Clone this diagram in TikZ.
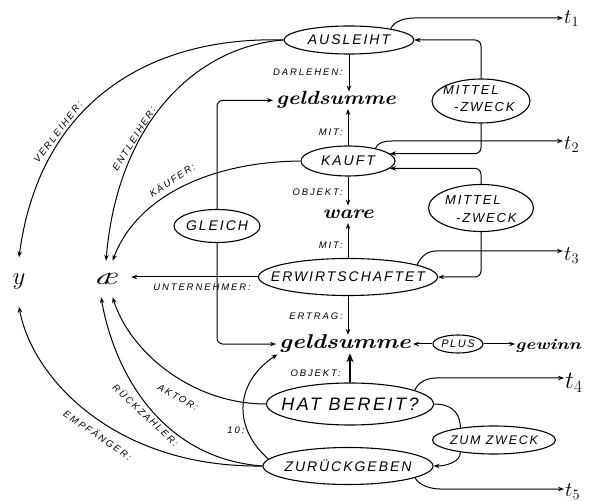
\documentclass[tikz,border=0pt]{standalone}
\usepackage{fontspec}
\usetikzlibrary{shapes.geometric,arrows.meta}
\newfontfamily\handE[LetterSpace=14]{Liberation Sans}
\newfontfamily\handL[LetterSpace=20]{Liberation Sans}
\newcommand{\myfs}[1]{\fontsize{#1}{#1}\selectfont}
\begin{document}
\begin{tikzpicture}[x=1pt,y=-1pt,
  ell/.style={ellipse, draw, line width=1.1pt, inner sep=0pt, font=\handE\itshape\myfs{14}},
  etext/.style={inner sep=0pt, anchor=west, font=\handE\itshape\myfs{13}},
  lab/.style={inner sep=0pt, font=\handL\itshape\myfs{9.5}},
  word/.style={inner sep=0pt, anchor=base, font=\bfseries\itshape\myfs{19}},
  tlab/.style={inner sep=1pt, anchor=west, font=\myfs{20}},
  arr/.style={line width=1pt, -{Stealth[length=6pt,width=4.5pt]}},
  ln/.style={line width=1pt},
]
\useasboundingbox (0,0) rectangle (589,502);

% ellipses
\node[ell, minimum width=130pt, minimum height=28pt] (aus) at (349,40) {\makebox[0pt]{AUSLEIHT}};
\node[ell, minimum width=94pt, minimum height=30pt] (kauft) at (348,161) {\makebox[0pt]{KAUFT}};
\node[ell, minimum width=179pt, minimum height=37pt] (erw) at (348,277) {\makebox[0pt]{ERWIRTSCHAFTET}};
\node[ell, minimum width=167pt, minimum height=42pt, font=\handE\itshape\myfs{18}] (hat) at (350,404) {\makebox[0pt]{HAT BEREIT?}};
\node[ell, minimum width=170pt, minimum height=37pt] (zur) at (348,466) {\makebox[0pt]{ZURÜCKGEBEN}};
\node[ell, minimum width=86pt, minimum height=33pt] (gleich) at (217,226) {\makebox[0pt]{GLEICH}};
\node[ell, minimum width=123pt, minimum height=28pt, font=\handE\itshape\myfs{12.5}] (zz) at (494,440) {\makebox[0pt]{ZUM ZWECK}};
\node[ell, minimum width=50pt, minimum height=18pt, font=\handE\itshape\myfs{11}] (plus) at (458,344) {\makebox[0pt]{PLUS}};
\node[ell, minimum width=98pt, minimum height=44pt] (mz1) at (481,101) {};
\node[etext] (mz1a) at (443,90) {MITTEL};
\node[etext] (mz1b) at (454,107) {-ZWECK};
\node[ell, minimum width=105pt, minimum height=47pt] (mz2) at (481,208) {};
\node[etext] (mz2a) at (445,200) {MITTEL};
\node[etext] (mz2b) at (456,218) {-ZWECK};

% words
\node[word] (gs1) at (336,105) {\scalebox{1.15}[1]{geldsumme}};
\node[word] (ware) at (348,219) {\scalebox{1.15}[1]{ware}\vphantom{gl}};
\node[word, font=\bfseries\itshape\myfs{20}] (gs2) at (345,349) {\scalebox{1.2}[1]{geldsumme}};
\node[word, font=\bfseries\itshape\myfs{15}] (gewinn) at (548,350) {\scalebox{1.25}[1]{gewinn}};

% left nodes
\node[inner sep=0pt, minimum height=49pt, font=\myfs{28}] (y) at (19,282) {$y$};
\node[inner sep=0pt, minimum height=36pt, minimum width=30pt, font=\itshape\myfs{26}] (ae) at (106,279) {\scalebox{1.3}[1]{æ}};

% t nodes
\node[tlab] (t1) at (563,19) {$t_1$};
\node[tlab] (t2) at (563,145) {$t_2$};
\node[tlab] (t3) at (563,256) {$t_3$};
\node[tlab, font=\myfs{26}] (t4) at (564,383) {$t_4$};
\node[tlab] (t5) at (564,492) {$t_5$};

% labels
\node[lab, anchor=east] (ldarl) at (343,72) {DARLEHEN:};
\node[lab, anchor=east] (lmit1) at (343,132) {MIT:};
\node[lab, anchor=east] (lobj1) at (343,192) {OBJEKT:};
\node[lab, anchor=east] (lmit2) at (343,245) {MIT:};
\node[lab, anchor=east] (lertr) at (343,316) {ERTRAG:};
\node[lab, anchor=east] (lobj2) at (341,373) {OBJEKT:};
\node[lab] (lunt) at (202,287) {UNTERNEHMER:};
\node[lab, rotate=53] (lverl) at (58,132) {VERLEIHER:};
\node[lab, rotate=58] (lentl) at (134,139) {ENTLEIHER:};
\node[lab, rotate=34] (lkauf) at (172,180) {KÄUFER:};
\node[lab, rotate=-29] (lakt) at (178,397) {AKTOR:};
\node[lab, rotate=-43] (lrue) at (146,415) {RÜCKZAHLER:};
\node[lab, rotate=-34] (lemp) at (98,435) {EMPFÄNGER:};
\node[lab] (lio) at (236,430) {10:};

% bend coordinates
\coordinate (t1b) at (414,18);
\coordinate (t2b) at (392,141);
\coordinate (t3b) at (436,251);
\coordinate (t4b) at (436,378);
\coordinate (t5b) at (440,489);

% t connectors
\draw[arr] (aus.15) .. controls +(3,-8) and +(-8,0) .. (t1b) -- (t1b -| t1.west);
\draw[arr] (kauft.25) .. controls +(3,-6) and +(-8,0) .. (t2b) -- (t2b -| t2.west);
\draw[arr] (erw.10) .. controls +(4,-9) and +(-8,0) .. (t3b) -- (t3b -| t3.west);
\draw[arr] (hat.12) .. controls +(4,-9) and +(-8,0) .. (t4b) -- (t4b -| t4.west);
\draw[arr] (zur.-10) .. controls +(4,8) and +(-8,0) .. (t5b) -- (t5b -| t5.west);

% mittel-zweck connectors
\draw[arr, rounded corners=6pt] (mz1.north) |- (aus.east);
\draw[arr, rounded corners=6pt] (mz1.south) |- (kauft.10);
\draw[arr, rounded corners=6pt] (mz2.north) |- (kauft.-10);
\draw[arr, rounded corners=6pt] (mz2.south) |- (erw.east);

% gleich
\draw[arr, rounded corners=6pt, shorten >=3pt] (gleich.north) |- (gs1.west);
\draw[arr, rounded corners=6pt, shorten >=3pt] (gleich.south) |- (gs2.west);

% vertical
\draw[arr] (aus.south) -- (aus.south |- gs1.north);
\draw[arr] (kauft.north) -- (kauft.north |- gs1.south);
\draw[arr] (kauft.south) -- (kauft.south |- ware.north);
\draw[arr] (erw.north) -- (erw.north |- ware.south);
\draw[arr] (erw.south) -- (erw.south |- gs2.north);
\draw[line width=1.6pt, -{Stealth[length=9pt,width=7pt]}] (hat.north) -- (hat.north |- gs2.south);

% horizontal
\draw[arr, shorten >=2pt] (plus.west) -- (plus.west -| gs2.east);
\draw[arr] (plus.east) -- (plus.east -| gewinn.west);
\draw[arr, shorten >=10pt] (erw.west) -- (erw.west -| ae.east);

% zum zweck
\draw[ln] (hat.east) .. controls +(22,0) and +(0,-10) .. (zz.160);
\draw[arr] (zz.200) .. controls +(0,10) and +(12,0) .. (zur.east);

% left curves
\draw[arr] (aus.west) .. controls (152,36) and (40,100) .. (y.north);
\draw[arr] (aus.west) .. controls (200,46) and (118,118) .. (ae.north);
\draw[arr] (kauft.west) .. controls (205,162) and (135,200) .. (ae.70);
\draw[arr] (hat.west) .. controls (192,404) and (130,352) .. (ae.-70);
\draw[arr] (zur.west) .. controls (155,458) and (112,362) .. (ae.-105);
\draw[arr] (zur.west) .. controls (115,468) and (32,378) .. (y.south);
\draw[arr, shorten >=2pt] (zur.175) .. controls (235,430) and (232,385) .. (gs2.south west);
\end{tikzpicture}
\end{document}
